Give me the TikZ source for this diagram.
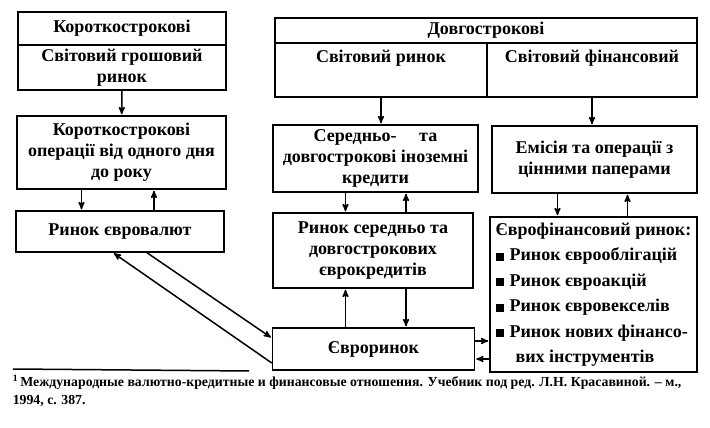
\documentclass[tikz,border=0pt]{standalone}
\usepackage{fontspec}
\setmainfont{Liberation Serif}
\usetikzlibrary{arrows,positioning}
\newcommand{\sqr}{\rule{8pt}{8pt}\hspace{6pt}}

\begin{document}
\begin{tikzpicture}[->,>=stealth',shorten >=1pt,x=1pt,y=-1pt,
        line width=1.5pt,
        box/.style={draw,rectangle,align=center,inner sep=2pt,
            font=\bfseries\fontsize{18}{21}\selectfont}]
    \useasboundingbox (0,0) rectangle (710,428);

    % short-term column
    \node[box,minimum width=208pt,minimum height=33pt] (kt) at (122,28.5) {Короткострокові};
    \node[box,minimum width=208pt,minimum height=45pt] (gr) at (122,67.5) {Світовий грошовий\\ринок};
    \node[box,minimum width=209pt,minimum height=73pt] (ko) at (121.5,152.5) {Короткострокові\\операції від одного дня\\до року};
    \node[box,minimum width=208pt,minimum height=41pt] (ev) at (120,231.5) {Ринок євровалют};

    % long-term columns
    \node[box,minimum width=422pt,minimum height=25pt] (dt) at (486,30.5) {Довгострокові};
    \node[box,minimum width=212pt,minimum height=54pt] (sr) at (381,70) {Світовий ринок\\\strut};
    \node[box,minimum width=210pt,minimum height=54pt] (sf) at (592,70) {Світовий фінансовий\\\strut};
    \node[box,minimum width=205pt,minimum height=67pt] (ik) at (375.5,158.5) {Середньо-\quad\ та\\довгострокові іноземні\\кредити};
    \node[box,minimum width=205pt,minimum height=67pt] (cp) at (594.5,159.5) {Емісія та операції з\\цінними паперами};
    \node[box,minimum width=200pt,minimum height=75pt] (ek) at (373,250.5) {Ринок середньо та\\довгострокових\\єврокредитів};
    \node[box,align=left,minimum width=207pt,minimum height=155pt,
        font=\bfseries\fontsize{18}{25.5}\selectfont] (fr) at (593.5,294.5)
        {Єврофінансовий ринок:\\\sqr Ринок єврооблігацій\\\sqr Ринок євроакцій\\\sqr Ринок євровекселів\\\sqr Ринок нових фінансо-\\\hspace{20pt}вих інструментів};
    \node[box,minimum width=202pt,minimum height=42pt] (er) at (373.5,349) {Євроринок};

    \path (gr) edge (ko)
        ([xshift=-40pt]ko.south) edge ([xshift=-40pt]ko.south |- ev.north)
        ([xshift=34pt]ev.north) edge ([xshift=34pt]ev.north |- ko.south)
        (sr.south) edge (sr.south |- ik.north)
        (sf.south) edge (sf.south |- cp.north)
        ([xshift=-30pt]ik.south) edge ([xshift=-30pt]ik.south |- ek.north)
        ([xshift=33pt]ek.north) edge ([xshift=33pt]ek.north |- ik.south)
        ([xshift=-37pt]cp.south) edge ([xshift=-37pt]cp.south |- fr.north)
        ([xshift=34pt]fr.north) edge ([xshift=34pt]fr.north |- cp.south)
        ([xshift=-28pt]er.north) edge ([xshift=-28pt]er.north |- ek.south)
        ([xshift=33pt]ek.south) edge ([xshift=33pt]ek.south |- er.north)
        ([yshift=8pt]er.east) edge ([yshift=8pt]er.east -| fr.west)
        ([yshift=-10pt]er.east -| fr.west) edge ([yshift=-10pt]er.east)
        ([xshift=27pt]ev.south) edge ([yshift=11pt]er.west)
        ([yshift=-14pt]er.west) edge ([xshift=-7pt]ev.south);

    % footnote
    \draw[-,line width=1.5pt] (13,369) -- (250,371);
    \node[anchor=north west,align=left,inner sep=0pt,
        font=\bfseries\fontsize{13.8}{18}\selectfont] (fn) at (12,374)
        {\textsuperscript{1}\,Международные валютно-кредитные и финансовые отношения. Учебник под ред. Л.Н. Красавиной. -- м.,\\1994, с. 387.};

\end{tikzpicture}
\end{document}
